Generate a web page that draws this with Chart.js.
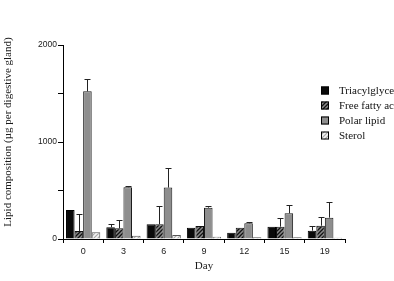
<!DOCTYPE html>
<html>
<head>
<meta charset="utf-8">
<script src="https://cdn.jsdelivr.net/npm/chart.js@4"></script>
<style>
html,body{margin:0;padding:0;background:#fff;}
canvas{display:block;}
</style>
</head>
<body>
<canvas id="c" width="394" height="281"></canvas>
<script>
const days = ['0', '3', '6', '9', '12', '15', '19'];
const seriesNames = ['Triacylglycerol', 'Free fatty acid', 'Polar lipid', 'Sterol'];
const triacylglycerol = [300, 121, 152, 117, 65, 127, 86];
const triacylglycerolErr = [0, 31, 0, 0, 0, 0, 51];
const freeFattyAcid = [83, 110, 152, 134, 117, 127, 137];
const freeFattyAcidErr = [175, 86, 192, 0, 0, 87, 87];
const polarLipid = [1522, 534, 530, 323, 162, 265, 220];
const polarLipidErr = [128, 10, 200, 21, 14, 82, 165];
const sterol = [70, 34, 41, 24, 18, 18, 14];
const sterolErr = [0, 0, 0, 0, 0, 0, 0];
const yTicksMajor = [0, 1000, 2000];
const xTitle = 'Day';
const yTitle = 'Lipid composition (\u00b5g per digestive gland)';

function hatch(bg, fg, size, lw) {
  const c = document.createElement('canvas');
  c.width = size; c.height = size;
  const g = c.getContext('2d');
  g.fillStyle = bg; g.fillRect(0, 0, size, size);
  g.strokeStyle = fg; g.lineWidth = lw;
  g.beginPath();
  g.moveTo(-1, size + 1); g.lineTo(size + 1, -1);
  g.moveTo(-1, 1); g.lineTo(1, -1);
  g.moveTo(size - 1, size + 1); g.lineTo(size + 1, size - 1);
  g.stroke();
  return g.createPattern(c, 'repeat');
}
const ffaPattern = hatch('#8a8a8a', '#111', 4, 1.3);
const sterolPattern = hatch('#f4f4f4', '#a8a8a8', 4, 1.2);

const fills = ['#0a0a0a', ffaPattern, '#8e8e8e', sterolPattern];
const borders = ['#000', '#111', '#1a1a1a', '#555'];
const values = [triacylglycerol, freeFattyAcid, polarLipid, sterol];
const errs = [triacylglycerolErr, freeFattyAcidErr, polarLipidErr, sterolErr];

const errorBars = {
  id: 'errorBars',
  afterDatasetsDraw(chart) {
    const ctx = chart.ctx;
    const ys = chart.scales.y;
    ctx.save();
    ctx.strokeStyle = '#222';
    ctx.lineWidth = 1;
    chart.data.datasets.forEach((ds, i) => {
      const meta = chart.getDatasetMeta(i);
      meta.data.forEach((el, j) => {
        const e = errs[i][j];
        if (!e) return;
        const top = ys.getPixelForValue(values[i][j] + e);
        const x = Math.round(el.x) + 0.5;
        ctx.beginPath();
        ctx.moveTo(x, el.y);
        ctx.lineTo(x, Math.round(top) + 0.5);
        ctx.moveTo(x - 3, Math.round(top) + 0.5);
        ctx.lineTo(x + 3, Math.round(top) + 0.5);
        ctx.stroke();
      });
    });
    ctx.restore();
  }
};

const customText = {
  id: 'customText',
  afterDraw(chart) {
    const ctx = chart.ctx;
    ctx.save();
    ctx.fillStyle = '#1a1a1a';
    ctx.font = '11px "Liberation Serif", "Times New Roman", serif';
    ctx.textAlign = 'center';
    ctx.textBaseline = 'middle';
    ctx.translate(8, 132);
    ctx.rotate(-Math.PI / 2);
    ctx.fillText(yTitle, 0, 0);
    ctx.restore();
    ctx.save();
    ctx.font = '11px "Liberation Serif", "Times New Roman", serif';
    ctx.textBaseline = 'middle';
    ctx.textAlign = 'left';
    const y0 = 90.5, step = 15;
    chart.data.datasets.forEach((ds, i) => {
      const cy = y0 + i * step;
      ctx.fillStyle = fills[i];
      ctx.fillRect(321, cy - 4, 8, 8);
      ctx.strokeStyle = '#000';
      ctx.lineWidth = 1;
      ctx.strokeRect(321.5, cy - 3.5, 7, 7);
      ctx.fillStyle = '#111';
      ctx.fillText(ds.label, 339, cy + 0.5);
    });
    ctx.restore();
  }
};

new Chart(document.getElementById('c'), {
  type: 'bar',
  data: {
    labels: days,
    datasets: seriesNames.map((n, i) => ({
      label: n,
      data: values[i],
      backgroundColor: fills[i],
      borderColor: borders[i],
      borderWidth: 1,
      barPercentage: 1.0,
      categoryPercentage: 0.85
    }))
  },
  options: {
    responsive: false,
    animation: false,
    devicePixelRatio: 1,
    layout: { padding: { left: 0, right: 49, top: 45, bottom: 0 } },
    plugins: { legend: { display: false }, tooltip: { enabled: false } },
    scales: {
      x: {
        afterFit(s) { s.height = 42; },
        grid: { display: true, drawOnChartArea: false, offset: true, tickLength: 4, color: '#000' },
        border: { display: true, color: '#000', width: 1 },
        ticks: { color: '#1a1a1a', font: { family: '"Liberation Sans", Arial, sans-serif', size: 9 }, padding: 3, maxRotation: 0 },
        title: { display: true, text: xTitle, color: '#1a1a1a', font: { family: '"Liberation Serif", "Times New Roman", serif', size: 11 }, padding: { top: 2, bottom: 8 } }
      },
      y: {
        min: 0, max: 2000,
        afterFit(s) { s.width = 63; },
        grid: { display: true, drawOnChartArea: false, tickLength: 5, color: '#000' },
        border: { display: true, color: '#000', width: 1 },
        ticks: {
          stepSize: 500,
          color: '#1a1a1a',
          font: { family: '"Liberation Sans", Arial, sans-serif', size: 8.5 },
          padding: 1,
          callback: (v) => yTicksMajor.includes(v) ? String(v) : ''
        }
      }
    }
  },
  plugins: [errorBars, customText]
});
</script>
</body>
</html>
